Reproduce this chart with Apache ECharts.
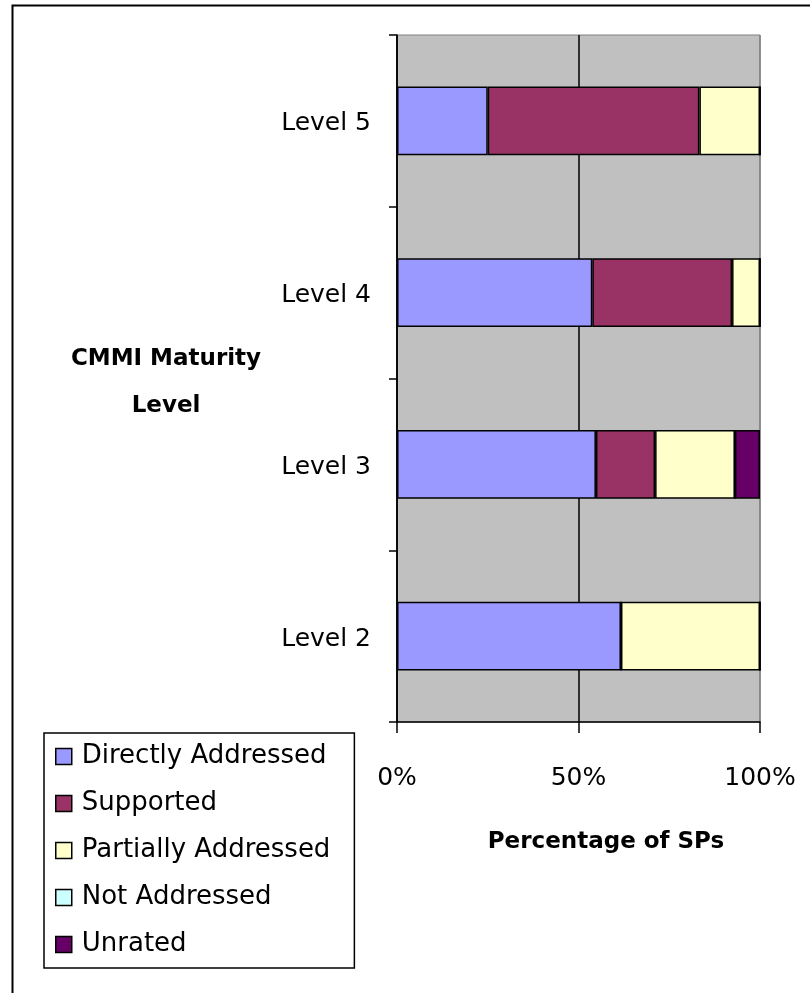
<!DOCTYPE html>
<html>
<head>
<meta charset="utf-8">
<script src="https://cdn.jsdelivr.net/npm/echarts@6/dist/echarts.min.js"></script>
<style>
  html, body { margin: 0; padding: 0; background: #fff; }
  #main { width: 810px; height: 993px; }
</style>
</head>
<body>
<div id="main"></div>
<script>
var levels = ['Level 2', 'Level 3', 'Level 4', 'Level 5'];
var directlyAddressed = [61.7, 54.8, 53.8, 25.0];
var supported = [0, 16.3, 38.5, 58.3];
var partiallyAddressed = [38.3, 22.0, 7.7, 16.7];
var notAddressed = [0, 0, 0, 0];
var unrated = [0, 6.9, 0, 0];
var xTicks = ['0%', '50%', '100%'];

var font = 'DejaVu Sans';
var myChart = echarts.init(document.getElementById('main'));

function barSeries(name, data, color) {
	return {
		name: name,
		type: 'bar',
		stack: 'total',
		barCategoryGap: '60%',
		data: data,
		itemStyle: {
			color: color,
			borderColor: '#000',
			borderWidth: 1.5
		},
		emphasis: { disabled: true }
	};
}

option = {
	animation: false,
	title: [{
		text: 'CMMI Maturity\nLevel',
		left: 161,
		top: 331,
		textAlign: 'center',
		textStyle: {
			fontFamily: font,
			fontSize: 23,
			fontWeight: 'bold',
			color: '#000',
			lineHeight: 47
		}
	}, {
		text: 'Percentage of SPs',
		left: 601,
		top: 826,
		textAlign: 'center',
		textStyle: {
			fontFamily: font,
			fontSize: 23,
			fontWeight: 'bold',
			color: '#000'
		}
	}],
	graphic: [{
		type: 'polyline',
		shape: { points: [[12.5, 993], [12.5, 5.5], [810, 5.5]] },
		style: { stroke: '#000', lineWidth: 2, fill: null }
	}],
	legend: {
		orient: 'vertical',
		left: 44,
		top: 733,
		padding: [8, 24, 8, 11],
		itemGap: 16,
		itemWidth: 16,
		itemHeight: 16,
		borderColor: '#000',
		borderWidth: 1.5,
		backgroundColor: '#fff',
		icon: 'rect',
		itemStyle: { borderColor: '#000', borderWidth: 1.5 },
		textStyle: {
			fontFamily: font,
			fontSize: 26,
			color: '#000',
			lineHeight: 31,
			padding: [0, 0, 0, 5]
		},
		data: ['Directly Addressed', 'Supported', 'Partially Addressed', 'Not Addressed', 'Unrated']
	},
	grid: {
		left: 397,
		top: 35,
		width: 363,
		height: 687,
		show: true,
		backgroundColor: '#C0C0C0',
		borderColor: '#808080',
		borderWidth: 1
	},
	xAxis: {
		type: 'value',
		min: 0,
		max: 100,
		interval: 50,
		axisLine: { show: true, lineStyle: { color: '#000', width: 1.5 } },
		axisTick: { show: true, length: 11, lineStyle: { color: '#000', width: 1.5 } },
		axisLabel: {
			margin: 44,
			fontFamily: font,
			fontSize: 25,
			color: '#000',
			formatter: function (v) { return xTicks[Math.round(v / 50)]; }
		},
		splitLine: { show: true, lineStyle: { color: ['#000', '#000', '#808080'], width: 1.5 } }
	},
	yAxis: {
		type: 'category',
		data: levels,
		axisLine: { show: true, lineStyle: { color: '#000', width: 1.5 } },
		axisTick: { show: true, length: 8, lineStyle: { color: '#000', width: 1.5 } },
		axisLabel: {
			margin: 26,
			fontFamily: font,
			fontSize: 25,
			color: '#000',
			lineHeight: 36,
			verticalAlign: 'top',
			padding: [-15, 0, 0, 0]
		},
		splitLine: { show: false }
	},
	series: [
		barSeries('Directly Addressed', directlyAddressed, '#9999FF'),
		barSeries('Supported', supported, '#993366'),
		barSeries('Partially Addressed', partiallyAddressed, '#FFFFCC'),
		barSeries('Not Addressed', notAddressed, '#CCFFFF'),
		barSeries('Unrated', unrated, '#660066')
	]
};
myChart.setOption(option);
</script>
</body>
</html>
